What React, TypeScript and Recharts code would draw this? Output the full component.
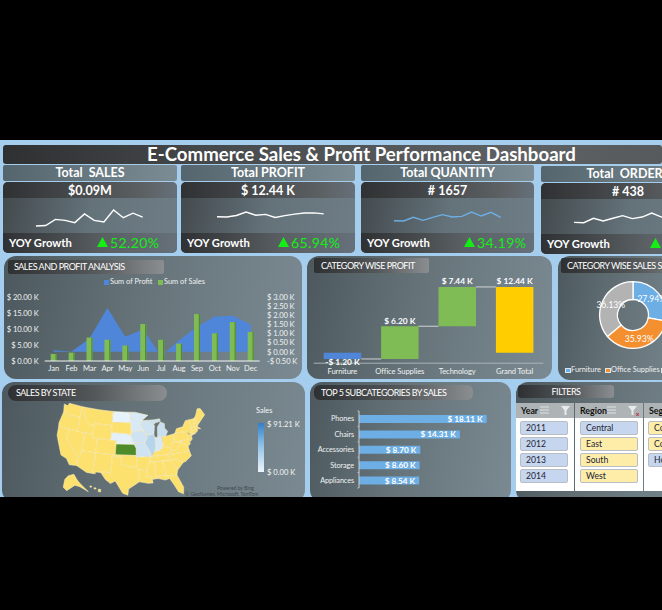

import React from "react";
import {
  ComposedChart, BarChart, LineChart, PieChart, ScatterChart, Area, Bar, Line, Pie, Cell, Scatter,
  XAxis, YAxis, LabelList, Rectangle,
} from "recharts";

const months = ["Jan","Feb","Mar","Apr","May","Jun","Jul","Aug","Sep","Oct","Nov","Dec"];
const salesK = [2.2,2.6,7.3,6.6,4.8,11.5,6.6,5.4,14.6,8.6,12.1,9.0];
const profitK = [0.09,0.02,0.72,2.39,0.82,1.23,-0.25,0.63,1.36,1.92,1.96,1.49];
const quantity = [66,60,129,73,129,180,136,148,230,154,224,128];
const orders = [12,10,35,20,35,50,33,42,65,42,59,35];

const categories = ["Furniture","Office Supplies","Technology","Grand Total"];
const categoryStart = [0,-1.2,5.0,0];
const categoryEnd = [-1.2,5.0,12.44,12.44];
const categoryLabels = ["-$ 1.20 K","$ 6.20 K","$ 7.44 K","$ 12.44 K"];
const categoryColors = ["#4f86d9","#7fbc55","#7fbc55","#ffcd00"];

const donutNames = ["Furniture","Office Supplies","Technology"];
const donutValues = [27.94,35.93,36.13];
const donutColors = ["#6daee4","#f48f2f","#b3b3b3"];

const subcats = ["Phones","Chairs","Accessories","Storage","Appliances"];
const subcatSales = [18.11,14.31,8.70,8.60,8.54];

const years = ["2011","2012","2013","2014"];
const regions = ["Central","East","South","West"];
const regionOn = [true,false,false,false];
const segments = ["Consumer","Corporate","Home Office"];
const segmentOn = [false,false,true];

const YEL = "#fde16e";
const states: [string, string, number[][]][] = [
  ["WA",YEL,[[-124.7,48.4],[-123,48.2],[-122.8,49],[-117,49],[-117,46],[-119,45.9],[-121,45.6],[-123,46.2],[-124,46.3]]],
  ["OR",YEL,[[-124,46.3],[-123,46.2],[-121,45.6],[-119,45.9],[-117,46],[-116.9,44],[-117,42],[-124.2,42],[-124.5,43]]],
  ["CA",YEL,[[-124.2,42],[-120,42],[-120,39],[-114.6,35],[-114.7,32.7],[-117.1,32.5],[-118.5,34],[-120.6,34.6],[-122,36.8],[-123.8,39.5]]],
  ["NV",YEL,[[-120,42],[-114,42],[-114,36.2],[-114.6,35],[-120,39]]],
  ["ID",YEL,[[-117,49],[-116,49],[-116,47.9],[-114.5,45.6],[-113,44.5],[-111,44.5],[-111,42],[-117,42],[-116.9,44],[-117,46]]],
  ["MT",YEL,[[-116,49],[-110,49],[-104,49],[-104,45],[-111,45],[-111,44.5],[-113,44.5],[-114.5,45.6],[-116,47.9]]],
  ["WY",YEL,[[-111,45],[-104,45],[-104,41],[-111,41]]],
  ["UT",YEL,[[-114,42],[-111,42],[-111,41],[-109,41],[-109,37],[-114,37]]],
  ["AZ",YEL,[[-114,37],[-109,37],[-109,31.3],[-111,31.3],[-114.7,32.7],[-114.6,35],[-114,36.2]]],
  ["CO",YEL,[[-109,41],[-102,41],[-102,37],[-109,37]]],
  ["NM",YEL,[[-109,37],[-103,37],[-103,32],[-106.6,32],[-106.5,31.8],[-108.2,31.8],[-108.2,31.3],[-109,31.3]]],
  ["ND","#e6f2fc",[[-104,49],[-100,49],[-97.2,49],[-96.6,46],[-104,46]]],
  ["SD",YEL,[[-104,46],[-96.6,46],[-96.5,42.5],[-98.5,43],[-104,43]]],
  ["NE","#e3f0fa",[[-104,43],[-98.5,43],[-96.5,42.5],[-95.3,40],[-102,40],[-102,41],[-104,41]]],
  ["KS","#4f8a2b",[[-102,40],[-95.3,40],[-94.6,39],[-94.6,37],[-102,37]]],
  ["OK",YEL,[[-103,37],[-94.6,37],[-94.5,33.7],[-97,33.8],[-100,34.5],[-100,36.5],[-103,36.5]]],
  ["TX",YEL,[[-106.6,32],[-103,32],[-103,36.5],[-100,36.5],[-100,34.5],[-97,33.8],[-94.5,33.7],[-94,33],[-93.7,31],[-93.8,29.7],[-95,29],[-97.2,27.7],[-97.4,26],[-99,26.5],[-101.5,29.8],[-103,29],[-104.7,30]]],
  ["MN","#d9e9f6",[[-97.2,49],[-95,49],[-89.6,48],[-92,46.7],[-92.8,45.5],[-91.2,43.5],[-96.5,43.5],[-96.6,46]]],
  ["IA","#cfe3f3",[[-96.5,43.5],[-91.2,43.5],[-90.2,41.8],[-91.4,40.4],[-95.8,40.6],[-96.5,42.5]]],
  ["MO","#cfe3f3",[[-95.8,40.6],[-91.4,40.4],[-90.2,38.8],[-89.2,37],[-89.7,36],[-90.4,36.5],[-94.6,36.5],[-94.6,39],[-95.3,40]]],
  ["AR",YEL,[[-94.6,36.5],[-90.4,36.5],[-89.7,36],[-91,33],[-94,33],[-94.5,33.7]]],
  ["LA",YEL,[[-94,33],[-91,33],[-91.5,31],[-89.7,31],[-89.4,29.2],[-91,29.2],[-93.8,29.7],[-93.7,31]]],
  ["WI","#cfe3f3",[[-92,46.7],[-90.5,46.6],[-87.7,45.2],[-87.3,45],[-87.8,42.5],[-90.6,42.5],[-91.2,43.5],[-92.8,45.5]]],
  ["IL","#b5d4ed",[[-90.6,42.5],[-87.8,42.5],[-87.5,41.7],[-87.5,39.3],[-88,37.8],[-89.2,37],[-90.2,38.8],[-91.4,40.4],[-90.2,41.8]]],
  ["IN","#d6e7f5",[[-87.5,41.7],[-85,41.7],[-84.8,39.1],[-86,38],[-88,37.8],[-87.5,39.3]]],
  ["MI","#c8def1",[[-86.5,41.7],[-83.5,41.7],[-82.5,43],[-83.5,44],[-83.3,45.2],[-84.8,45.8],[-86.2,44.5]]],
  ["UP","#c8def1",[[-90.5,46.6],[-87.7,45.2],[-87,45.7],[-84.8,46],[-85,46.7],[-87.5,46.6]]],
  ["OH",YEL,[[-84.8,41.7],[-83.5,41.7],[-80.5,42],[-80.5,40.6],[-81.7,39],[-82.6,38.4],[-84.8,39.1]]],
  ["KY",YEL,[[-89.5,36.5],[-88,37.8],[-86,38],[-84.8,39.1],[-82.6,38.4],[-82,37.5],[-83.7,36.6]]],
  ["TN",YEL,[[-90.2,35],[-89.6,36.5],[-83.7,36.6],[-81.7,36.6],[-84.3,35]]],
  ["MS",YEL,[[-91,33],[-90.2,35],[-88.2,35],[-88.4,30.3],[-89.5,30.2],[-89.7,31],[-91.5,31]]],
  ["AL",YEL,[[-88.2,35],[-85.6,35],[-85,32],[-85,31],[-87.6,31],[-87.6,30.3],[-88.4,30.3]]],
  ["GA",YEL,[[-85.6,35],[-83.1,35],[-81,32],[-81.5,30.7],[-85,30.7],[-85,32]]],
  ["FL",YEL,[[-87.6,31],[-85,31],[-85,30.7],[-81.5,30.7],[-80,27],[-80.4,25.2],[-81.8,26],[-82.8,28],[-84,30],[-85.4,29.7],[-87.6,30.3]]],
  ["SC",YEL,[[-83.1,35],[-81,35.1],[-78.6,33.9],[-81,32]]],
  ["NC",YEL,[[-84.3,35],[-81.7,36.6],[-75.9,36.6],[-75.6,35.2],[-78,33.9],[-78.6,33.9],[-81,35.1],[-83.1,35]]],
  ["VA",YEL,[[-83.7,36.6],[-82,37.5],[-80.3,37.5],[-78.5,39.2],[-77,38.7],[-76,37.9],[-75.9,36.6],[-81.7,36.6]]],
  ["WV",YEL,[[-82.6,38.4],[-81.7,39],[-80.5,40.6],[-80.5,39.7],[-79.5,39.7],[-77.8,39.5],[-78.5,39.2],[-80.3,37.5],[-82,37.5]]],
  ["PA",YEL,[[-80.5,42],[-79.8,42.2],[-75.3,42],[-75,41],[-75.5,39.8],[-80.5,39.7]]],
  ["NY",YEL,[[-79.8,42.2],[-79,43.3],[-76.5,43.5],[-75,45],[-73.4,45],[-73.5,41.3],[-72,41],[-73.9,40.6],[-74.7,41.4],[-75.3,42]]],
  ["MD",YEL,[[-79.5,39.7],[-75.5,39.8],[-75,38.5],[-76,37.9],[-77,38.7],[-78.5,39.2],[-77.8,39.5]]],
  ["NJ",YEL,[[-75,41],[-74,40.9],[-74,39.6],[-75,39],[-75.5,39.8]]],
  ["CT",YEL,[[-73.5,42],[-71.2,42],[-71.5,41.3],[-73.5,41]]],
  ["MA",YEL,[[-73.4,42.7],[-71,42.7],[-70,41.8],[-71.2,42],[-73.5,42]]],
  ["VT",YEL,[[-73.4,45],[-71.5,45],[-72.4,42.7],[-73.4,42.7]]],
  ["NH",YEL,[[-71.5,45],[-71,45.3],[-70.7,43],[-71,42.7],[-72.4,42.7]]],
  ["ME",YEL,[[-71,45.3],[-70.3,46],[-69.2,47.4],[-68,47.2],[-67,45.2],[-70.7,43]]],
];
const insets: number[][][] = [
  [[-0.328,-0.1245],[-0.311,-0.1067],[-0.284,-0.1002],[-0.268,-0.1277],[-0.255,-0.1439],[-0.214,-0.1844],[-0.255,-0.1601],[-0.279,-0.1536],[-0.319,-0.1795],[-0.336,-0.1633]],
  [[-0.207,-0.158],[-0.2,-0.156],[-0.197,-0.162],[-0.205,-0.163]],
  [[-0.187,-0.166],[-0.178,-0.165],[-0.176,-0.171],[-0.185,-0.172]],
  [[-0.165,-0.172],[-0.153,-0.174],[-0.155,-0.186],[-0.166,-0.184]],
];

const rad = Math.PI / 180;
const n = (Math.sin(29.5 * rad) + Math.sin(45.5 * rad)) / 2;
const C = Math.cos(29.5 * rad) ** 2 + 2 * n * Math.sin(29.5 * rad);
const rho0 = Math.sqrt(C - 2 * n * Math.sin(37.5 * rad)) / n;
const albers = ([lon, lat]: number[]) => {
  const rho = Math.sqrt(C - 2 * n * Math.sin(lat * rad)) / n;
  const th = n * (lon + 96) * rad;
  return { x: rho * Math.sin(th), y: rho0 - rho * Math.cos(th) };
};

const FONT = "Lato, 'Open Sans', sans-serif";
const PANEL = "linear-gradient(100deg,#4c585d 0%,#66747a 45%,#7b8a92 100%)";
const HEAD = "linear-gradient(90deg,#2e3032 0%,#54585a 55%,#8a8e90 100%)";
const AXIS = { fill: "#f0f2f3", fontSize: 7.6, fontFamily: FONT, letterSpacing: -0.1 };

const abs = (left: number, top: number, width: number, height: number, extra: any = {}) =>
  ({ position: "absolute", left, top, width, height, boxSizing: "border-box", ...extra }) as React.CSSProperties;

function Panel({ x, y, w, h, r = 12 }: any) {
  return <div style={abs(x, y, w, h, { background: PANEL, borderRadius: r })} />;
}
function Head({ x, y, w, h, text, r = 2, left = 6, center = false }: any) {
  return (
    <div style={abs(x, y, w, h, {
      background: HEAD, borderRadius: r, color: "#fff", fontSize: 9, letterSpacing: -0.5, lineHeight: h + "px",
      paddingLeft: center ? 0 : left, textAlign: center ? "center" : "left", whiteSpace: "nowrap", overflow: "hidden", fontFamily: FONT,
    })}>{text}</div>
  );
}

function Spark({ x, y, w, h, data, domain, color }: any) {
  const rows = data.map((v: number, i: number) => ({ m: months[i], v }));
  return (
    <div style={abs(x - 2, y - 2, w + 4, h + 4)}>
      <LineChart width={w + 4} height={h + 4} data={rows} margin={{ top: 2, right: 2, bottom: 2, left: 2 }}>
        <XAxis dataKey="m" hide padding={{ left: 0, right: 0 }} />
        <YAxis hide domain={domain} />
        <Line dataKey="v" type="linear" stroke={color} strokeWidth={1.4} dot={false} isAnimationActive={false} />
      </LineChart>
    </div>
  );
}

function Card({ x, w, top, title, value, growth, spark, barY = 165, gx }: any) {
  return (
    <>
      <div style={abs(x, barY, w, 16, {
        background: "linear-gradient(90deg,#55656d,#7c8c95)", borderRadius: 2, color: "#fff", fontWeight: 700, fontSize: 12.5,
        lineHeight: "15px", textAlign: "center", whiteSpace: "pre", fontFamily: FONT,
      })}>{title}</div>
      <div style={abs(x, top, w, 71, { background: "linear-gradient(100deg,#42494c,#64727a 50%,#6f7e86)", borderRadius: 5, overflow: "hidden" })}>
        <div style={abs(0, 0, w, 16, {
          background: "linear-gradient(90deg,#2f3133,#5c6062 80%,#66707a)", color: "#fff", fontWeight: 700, fontSize: 12.5,
          lineHeight: "18px", textAlign: "center", fontFamily: FONT,
        })}>{value}</div>
        <div style={abs(0, 51, w, 20, {
          background: "linear-gradient(90deg,#2f3133,#5a6064 60%,#66707a)", color: "#fff", fontWeight: 700, fontSize: 11.2,
          lineHeight: "20px", paddingLeft: 6, fontFamily: FONT,
        })}>YOY Growth</div>
      </div>
      {spark}
      <svg style={abs(gx, top + 54, 11, 12)} width={11} height={12}>
        <polygon points="0,11 5.5,1 11,11" fill="#14ee14" />
      </svg>
      <div style={abs(gx + 13, top + 51, 70, 20, { color: "#14ee14", fontSize: 14, lineHeight: "20px", letterSpacing: 0.4, fontFamily: FONT, whiteSpace: "nowrap" })}>{growth}</div>
    </>
  );
}

const SalesBar = (p: any) => (
  <g>
    <Rectangle x={p.x} y={p.y} width={p.width} height={p.height} fill="#7fbc55" />
    <Rectangle x={p.x + p.width - 1.2} y={p.y} width={1.2} height={p.height} fill="#4f8a30" />
  </g>
);

const LeftTick = (p: any) => (
  <text x={p.x} y={p.y + 2.8} textAnchor="end" {...AXIS}>{`$ ${p.payload.value.toFixed(2)} K`}</text>
);
const RightTick = (p: any) => {
  const v = p.payload.value;
  return <text x={p.x + 1.4} y={p.y + 2.8} textAnchor="start" {...AXIS}>{`${v < 0 ? "-" : ""}$ ${Math.abs(v).toFixed(2)} K`}</text>;
};

function SalesProfit() {
  const rows = months.map((m, i) => ({ m, sales: salesK[i], profit: profitK[i] }));
  return (
    <div style={abs(4, 256, 298, 123)}>
      <ComposedChart width={298} height={123} data={rows} margin={{ top: 40.7, right: 0, bottom: 0, left: 0 }}>
        <XAxis dataKey="m" height={18} interval={0} tick={AXIS} tickLine={false} axisLine={{ stroke: "#f4f6f7", strokeWidth: 1 }} tickMargin={3} tickSize={2} />
        <YAxis yAxisId="l" width={40.7} domain={[0, 20]} ticks={[0, 5, 10, 15, 20]} interval={0} tick={LeftTick} axisLine={false} tickLine={false} tickMargin={0} />
        <YAxis yAxisId="r" orientation="right" width={42.4} domain={[-0.5, 3]} ticks={[-0.5, 0, 0.5, 1, 1.5, 2, 2.5, 3]} interval={0} tick={RightTick} axisLine={false} tickLine={false} tickMargin={0} />
        <Area yAxisId="r" dataKey="profit" type="linear" stroke="none" fill="#4f86d9" fillOpacity={1} isAnimationActive={false} />
        <Bar yAxisId="l" dataKey="sales" barSize={6} shape={SalesBar} isAnimationActive={false} />
      </ComposedChart>
    </div>
  );
}

const CONN = 57.4 - 37.5;
const WaterShape = (p: any) => {
  const top = Math.min(p.y, p.y + p.height);
  const h = Math.abs(p.height);
  const i = p.index;
  const ly = categoryEnd[i] < categoryStart[i] ? top + h : top;
  return (
    <g>
      <Rectangle x={p.x} y={top} width={p.width} height={h} fill={categoryColors[i]} />
      {i < categories.length - 1 && <line x1={p.x + p.width} x2={p.x + p.width + CONN} y1={ly} y2={ly} stroke="#e9ecee" strokeWidth={0.8} />}
    </g>
  );
};
const WaterLabel = (p: any) => {
  const top = Math.min(p.y, p.y + p.height);
  const h = Math.abs(p.height);
  const below = categoryEnd[p.index] < categoryStart[p.index];
  return (
    <text x={p.x + p.width / 2} y={below ? top + h + 6.5 : top - 2.5} textAnchor="middle" fill="#fff" fontSize={8.4} fontFamily={FONT} fontWeight={700}>
      {p.value}
    </text>
  );
};
function CategoryProfit() {
  const rows = categories.map((c, i) => ({ c, range: [categoryStart[i], categoryEnd[i]], label: categoryLabels[i] }));
  return (
    <div style={abs(307, 256, 245, 123)}>
      <BarChart width={245} height={123} data={rows} margin={{ top: 22.7, right: 8.7, bottom: 0, left: 6.7 }}>
        <XAxis dataKey="c" height={15.8} interval={0} tick={AXIS} tickLine={false} axisLine={{ stroke: "#aab4b9" }} tickMargin={3} tickSize={2} />
        <YAxis hide domain={[-2, 14]} />
        <Bar dataKey="range" barSize={37.5} shape={WaterShape} isAnimationActive={false}>
          <LabelList dataKey="label" content={WaterLabel} />
        </Bar>
      </BarChart>
    </div>
  );
}

function Donut() {
  const rows = donutNames.map((name, i) => ({ name, value: donutValues[i] }));
  const label = (p: any) => {
    const r = (p.innerRadius + p.outerRadius) / 2;
    return (
      <text x={p.cx + r * Math.cos(-p.midAngle * rad)} y={p.cy + r * Math.sin(-p.midAngle * rad)} textAnchor="middle" dominantBaseline="central"
        fill="#fff" fontSize={8.6} fontFamily={FONT}>{`${p.value.toFixed(2)}%`}</text>
    );
  };
  return (
    <div style={abs(558, 256, 150, 123)}>
      <PieChart width={150} height={123} margin={{ top: 0, right: 0, bottom: 0, left: 0 }}>
        <Pie data={rows} dataKey="value" cx={75} cy={59} outerRadius={33.4} innerRadius={15.5} startAngle={90} endAngle={-270}
          stroke="#fff" strokeWidth={1.3} label={label} labelLine={false} isAnimationActive={false}>
          {rows.map((_, i) => <Cell key={i} fill={donutColors[i]} />)}
        </Pie>
      </PieChart>
    </div>
  );
}

const SubTick = (p: any) => {
  const step = 77 / subcats.length;
  const ax = p.x + 4;
  return (
    <g>
      <text x={p.x - 1} y={p.y + 2.6} textAnchor="end" {...AXIS} fontSize={7.3}>{p.payload.value}</text>
      <line x1={ax - 1.5} x2={ax} y1={p.y - step / 2} y2={p.y - step / 2} stroke="#c8d0d4" strokeWidth={0.8} />
      {p.index === subcats.length - 1 && <line x1={ax - 1.5} x2={ax} y1={p.y + step / 2} y2={p.y + step / 2} stroke="#c8d0d4" strokeWidth={0.8} />}
    </g>
  );
};

function Subcats() {
  const rows = subcats.map((c, i) => ({ c, v: subcatSales[i] }));
  return (
    <div style={abs(310, 382, 201, 115)}>
      <BarChart width={201} height={115} data={rows} layout="vertical" margin={{ top: 29, right: 11, bottom: 9, left: 0 }}>
        <XAxis type="number" hide domain={[0, 20]} />
        <YAxis type="category" dataKey="c" width={49} interval={0} tick={SubTick} tickLine={false} axisLine={{ stroke: "#c8d0d4" }} tickMargin={2} tickSize={2} />
        <Bar dataKey="v" barSize={8} fill="#6daee4" isAnimationActive={false}>
          <LabelList dataKey="v" position="insideRight" offset={4} fill="#fff" fontSize={8.2} fontWeight={700} fontFamily={FONT} formatter={(v: number) => `$ ${v.toFixed(2)} K`} />
        </Bar>
      </BarChart>
    </div>
  );
}

function StateMap() {
  const shapes = [
    ...states.map(([, fill, pts]) => ({ fill, pts: pts.map(albers) })),
    ...insets.map((pts) => ({ fill: YEL, pts: pts.map(([x, y]) => ({ x, y })) })),
  ];
  const poly = (fill: string) => (p: any) => (
    <path d={"M" + p.points.map((q: any) => `${q.cx ?? q.x},${q.cy ?? q.y}`).join("L") + "Z"} fill={fill} stroke="#fff3c4" strokeWidth={0.5} strokeLinejoin="round" />
  );
  return (
    <div style={abs(50.1, 396, 164.8, 109.2)}>
      <ScatterChart width={164.8} height={109.2} margin={{ top: 0, right: 0, bottom: 0, left: 0 }}>
        <XAxis type="number" dataKey="x" hide domain={[-0.4, 0.4]} />
        <YAxis type="number" dataKey="y" hide domain={[-0.25, 0.28]} />
        {shapes.map((s, i) => (
          <Scatter key={i} data={s.pts} line={poly(s.fill)} shape={() => null as any} isAnimationActive={false} />
        ))}
      </ScatterChart>
    </div>
  );
}

function Slicer({ x, w, title, items, on, bw, bx, icon }: any) {
  return (
    <>
      <div style={abs(x, 403, w, 15, { background: "#aeb3b5", color: "#111", fontWeight: 700, fontSize: 8.8, lineHeight: "15px", paddingLeft: 5, fontFamily: FONT, whiteSpace: "nowrap", overflow: "hidden" })}>{title}</div>
      {icon}
      <div style={abs(x, 418, w, 73, { background: "#fff" })} />
      {items.map((t: string, i: number) => (
        <div key={t} style={abs(bx, 421 + i * 16, bw, 14, {
          background: on[i] ? "#c5d6ee" : "#fdeda8", border: "1px solid #b9bec4", borderRadius: 2, color: "#223", fontSize: 8.6,
          lineHeight: "12px", paddingLeft: 5, fontFamily: FONT, whiteSpace: "nowrap", overflow: "hidden",
        })}>{t}</div>
      ))}
    </>
  );
}

const FilterIcons = ({ x, red }: any) => (
  <svg style={abs(x, 405, 36, 12)} width={36} height={12}>
    {[2, 5, 8].map((y) => <line key={y} x1={1} x2={10} y1={y} y2={y} stroke="#dfe2e3" strokeWidth={1} />)}
    <polygon points="22,1 31,1 27.5,5.5 27.5,10 25.5,10 25.5,5.5" fill="#e8ebec" />
    {red && <text x={30} y={11} fontSize={6} fill="#c02020" fontFamily={FONT} fontWeight={700}>x</text>}
  </svg>
);

const LegendItem = ({ x, y, c, t, w = 40, boxed = false }: any) => (
  <>
    <div style={abs(x, y - 2, boxed ? 5.5 : 4.5, boxed ? 5.5 : 4.5, { background: c, border: boxed ? "1px solid #dfe4e7" : "none" })} />
    <div style={abs(x + 6, y - 5, w, 10, { color: "#f0f2f3", fontSize: 7.4, lineHeight: "10px", fontFamily: FONT, whiteSpace: "nowrap" })}>{t}</div>
  </>
);

const SmallText = ({ x, y, t, size = 7.6, c = "#f4f6f7" }: any) => (
  <div style={abs(x, y, 70, 10, { color: c, fontSize: size, lineHeight: "10px", fontFamily: FONT, whiteSpace: "nowrap" })}>{t}</div>
);

export default function App() {
  return (
    <div style={abs(0, 0, 662, 610, { background: "#000", overflow: "hidden", fontFamily: FONT })}>
      <div style={abs(0, 140, 662, 357, { background: "#a5cdee" })} />
      <div style={abs(3, 145, 659, 18.5, {
        background: "linear-gradient(90deg,#2e3032,#4c4f51 40%,#5d6163 80%,#575a5c)", borderRadius: 3, color: "#fff", fontWeight: 700,
        fontSize: 18.65, lineHeight: "18.5px", whiteSpace: "nowrap", paddingLeft: 144, fontFamily: FONT,
      })}>E-Commerce Sales &amp; Profit Performance Dashboard</div>

      <Card x={3} w={174} top={182} title="Total  SALES" value="$0.09M" growth="52.20%" gx={97}
        spark={<Spark x={36} y={209.7} w={106.7} h={16} data={salesK} domain={[2.2, 14.6]} color="#fff" />} />
      <Card x={181} w={174} top={182} title="Total PROFIT" value="$ 12.44 K" growth="65.94%" gx={278}
        spark={<Spark x={217.3} y={212} w={106.7} h={5.5} data={profitK} domain={[-0.25, 2.39]} color="#fff" />} />
      <Card x={361} w={173} top={182} title="Total QUANTITY" value="# 1657" growth="34.19%" gx={464}
        spark={<Spark x={393.7} y={212} w={106.7} h={9} data={quantity} domain={[60, 230]} color="#6daee4" />} />
      <Card x={541} w={174} top={183} barY={166} title="Total  ORDERS" value="# 438" growth="18.19%" gx={650}
        spark={<Spark x={574.3} y={213.3} w={107} h={9.7} data={orders} domain={[10, 65]} color="#fff" />} />

      <Panel x={4} y={256} w={298} h={123} />
      <Panel x={307} y={256} w={245} h={123} />
      <Panel x={558} y={256} w={150} h={124} />
      <Panel x={2} y={382} w={303} h={120} />
      <Panel x={310} y={382} w={201} h={120} />
      <Panel x={516} y={382} w={200} h={120} />

      <Head x={8} y={260} w={156} h={14} text="SALES AND PROFIT ANALYSIS" left={6} />
      <Head x={314} y={258} w={115} h={15} text="CATEGORY WISE PROFIT" left={7} />
      <Head x={561} y={258} w={140} h={15} text="CATEGORY WISE SALES SHARE" left={6} />
      <Head x={8} y={385} w={159} h={16} r={8} text="SALES BY STATE" left={8} />
      <Head x={314} y={385} w={159} h={15} r={6} text="TOP 5 SUBCATEGORIES BY SALES" left={7} />
      <Head x={518} y={385} w={96} h={13} r={3} text="FILTERS" center />

      <SalesProfit />
      <LegendItem x={104} y={282} c="#4f86d9" t="Sum of Profit" />
      <LegendItem x={158} y={282} c="#7fbc55" t="Sum of Sales" />

      <CategoryProfit />
      <Donut />
      <LegendItem x={565} y={369.5} c="#6daee4" t="Furniture" boxed />
      <LegendItem x={605} y={369.5} c="#f48f2f" t="Office Supplies" w={60} boxed />
      <LegendItem x={661} y={369.5} c="#b3b3b3" t="Technology" boxed />

      <StateMap />
      <SmallText x={256} y={406} t="Sales" size={7.4} />
      <div style={abs(258, 423, 6, 49, { background: "linear-gradient(180deg,#2f80c8 0%,#8fc1e8 45%,#eef5fb 100%)" })} />
      <SmallText x={267} y={419} t="$ 91.21 K" />
      <SmallText x={267} y={467} t="$ 0.00 K" />
      <SmallText x={217} y={483} t="Powered by Bing" size={5} c="#40494e" />
      <SmallText x={185} y={489} t="© GeoNames, Microsoft, TomTom" size={5} c="#40494e" />

      <Subcats />

      <Slicer x={516} w={58} title="Year" items={years} on={[true, true, true, true]} bx={520} bw={48} icon={<FilterIcons x={539} />} />
      <Slicer x={575} w={68} title="Region" items={regions} on={regionOn} bx={580} bw={58} icon={<FilterIcons x={606} red />} />
      <Slicer x={644} w={70} title="Segment" items={segments} on={segmentOn} bx={648} bw={60} />
      <div style={abs(0, 497, 662, 113, { background: "#000" })} />
    </div>
  );
}
